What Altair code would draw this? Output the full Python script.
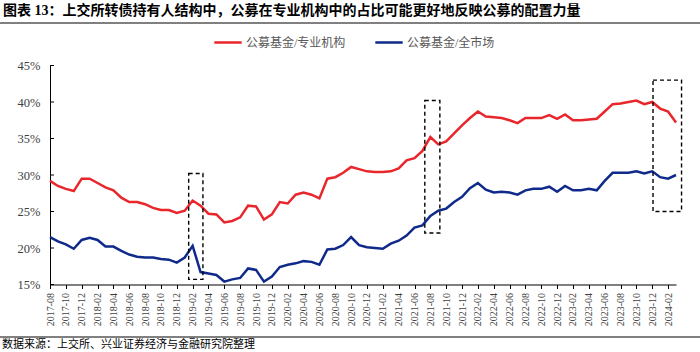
import altair as alt
import pandas as pd

# ---- data ----
months = [str(p) for p in pd.period_range("2017-08", "2024-03", freq="M")]
tick_labels = months[::2]

series_names = ["公募基金/专业机构", "公募基金/全市场"]
series_colors = ["#E8262B", "#0F2A8A"]

prof = [29.2, 28.5, 28.1, 27.8, 29.5, 29.5, 28.9, 28.3, 27.9, 26.9,
        26.3, 26.3, 26.0, 25.5, 25.2, 25.2, 24.8, 25.1, 26.5, 25.8,
        24.7, 24.6, 23.5, 23.7, 24.2, 25.8, 25.7, 23.9, 24.6, 26.3,
        26.1, 27.3, 27.6, 27.3, 26.8, 29.5, 29.7, 30.3, 31.1, 30.8,
        30.5, 30.4, 30.4, 30.5, 30.9, 32.0, 32.3, 33.3, 35.2, 34.2,
        34.6, 35.7, 36.8, 37.8, 38.7, 38.0, 37.9, 37.8, 37.5, 37.1,
        37.8, 37.8, 37.8, 38.2, 37.7, 38.3, 37.5, 37.5, 37.6, 37.7,
        38.7, 39.7, 39.8, 40.0, 40.2, 39.7, 40.0, 39.1, 38.7, 37.2]

market = [21.5, 20.9, 20.5, 19.9, 21.1, 21.4, 21.1, 20.2, 20.2, 19.6,
          19.1, 18.8, 18.7, 18.7, 18.5, 18.4, 18.0, 18.7, 20.3, 16.7,
          16.5, 16.3, 15.4, 15.7, 15.9, 17.2, 17.0, 15.4, 16.1, 17.4,
          17.7, 17.9, 18.2, 18.1, 17.7, 19.8, 19.9, 20.4, 21.5, 20.4,
          20.1, 20.0, 19.9, 20.6, 21.0, 21.7, 22.8, 23.1, 24.4, 25.1,
          25.4, 26.3, 27.0, 28.2, 28.9, 28.0, 27.6, 27.7, 27.6, 27.3,
          27.9, 28.1, 28.1, 28.4, 27.7, 28.5, 27.9, 27.9, 28.1, 27.9,
          29.2, 30.3, 30.3, 30.3, 30.5, 30.2, 30.5, 29.7, 29.5, 30.0]

# dashed highlight boxes (month index span, value span)
box_x1 = [17.5, 47.3, 76.1]
box_x2 = [19.3, 49.2, 79.7]
box_y1 = [15.7, 22.05, 25.0]
box_y2 = [30.2, 40.2, 43.0]

y_ticks = [15, 20, 25, 30, 35, 40, 45]

title_text = "图表 13：上交所转债持有人结构中，公募在专业机构中的占比可能更好地反映公募的配置力量"
source_text = "数据来源：上交所、兴业证券经济与金融研究院整理"

# ---- tables ----
rows = []
for name, vals in zip(series_names, [prof, market]):
    for i, v in enumerate(vals):
        rows.append({"i": i, "month": months[i], "v": v, "series": name})
df = pd.DataFrame(rows)
boxes = pd.DataFrame({"x1": box_x1, "x2": box_x2, "y1": box_y1, "y2": box_y2})
yt = pd.DataFrame({"v": y_ticks})

SERIF = "Liberation Serif, Noto Sans CJK SC"
W, H = 626, 219
TOP, LEFT = 65.5, 50

label_array = "[" + ",".join("'%s'" % m for m in months) + "]"

x_scale = alt.Scale(domain=[0, len(months) - 1], nice=False, zero=False)
y_scale = alt.Scale(domain=[15, 45], nice=False, zero=False)

x_axis = alt.Axis(values=list(range(0, len(months), 2)),
                  labelExpr=label_array + "[datum.value]",
                  labelAngle=270, labelFont=SERIF, labelFontSize=10,
                  labelColor="#404040", labelPadding=4,
                  tickSize=4, tickColor="black", domainColor="black",
                  grid=False, title=None, labelOverlap=False)
y_axis = alt.Axis(values=y_ticks, labelExpr="datum.value + '%'",
                  labelFont=SERIF, labelFontSize=12.5, labelColor="#404040",
                  labelPadding=10, ticks=False, domainColor="black",
                  grid=False, title=None, labelOverlap=False)

lines = alt.Chart(df).mark_line(strokeWidth=2.5).encode(
    x=alt.X("i:Q", scale=x_scale, axis=x_axis),
    y=alt.Y("v:Q", scale=y_scale, axis=y_axis),
    color=alt.Color("series:N",
                    scale=alt.Scale(domain=series_names, range=series_colors),
                    legend=alt.Legend(orient="none", legendX=163, legendY=-38,
                                      direction="horizontal", title=None,
                                      symbolType="stroke", symbolSize=750,
                                      symbolStrokeWidth=2.5,
                                      labelFont=SERIF, labelFontSize=12,
                                      labelColor="#595959", columnPadding=24,
                                      labelOffset=3)),
    detail="series:N",
)

ytick_marks = alt.Chart(yt).mark_rule(color="black", strokeWidth=1).encode(
    y=alt.Y("v:Q", scale=y_scale, axis=y_axis), x=alt.value(0), x2=alt.value(4))

rects = alt.Chart(boxes).mark_rect(fillOpacity=0, stroke="black", strokeDash=[4, 3],
                                   strokeWidth=1.4).encode(
    x=alt.X("x1:Q", scale=x_scale, axis=x_axis), x2="x2:Q",
    y=alt.Y("y1:Q", scale=y_scale, axis=y_axis), y2="y2:Q")

title = alt.Chart(pd.DataFrame({"t": [title_text]})).mark_text(
    align="left", baseline="middle", font=SERIF, fontSize=14, fontWeight="bold",
    color="black").encode(text="t:N", x=alt.value(3 - LEFT), y=alt.value(11 - TOP))

source = alt.Chart(pd.DataFrame({"t": [source_text]})).mark_text(
    align="left", baseline="middle", font=SERIF, fontSize=11,
    color="black").encode(text="t:N", x=alt.value(2 - LEFT), y=alt.value(345 - TOP))

top_rule = alt.Chart(pd.DataFrame({"a": [0]})).mark_rule(color="#808080", strokeWidth=2).encode(
    x=alt.value(-LEFT), x2=alt.value(700 - LEFT), y=alt.value(23 - TOP))
bottom_rule = alt.Chart(pd.DataFrame({"a": [0]})).mark_rule(color="#808080", strokeWidth=2).encode(
    x=alt.value(-LEFT), x2=alt.value(700 - LEFT), y=alt.value(337 - TOP))

chart = alt.layer(lines, rects, ytick_marks, title, source, top_rule, bottom_rule).properties(
    width=W, height=H,
    autosize=alt.AutoSizeParams(type="none"),
    padding={"left": LEFT, "top": TOP, "right": 700 - LEFT - W, "bottom": 352 - TOP - H},
    background="white",
).configure_view(stroke=None)

chart.save("out.html", embed_options={"renderer": "svg", "actions": False})
